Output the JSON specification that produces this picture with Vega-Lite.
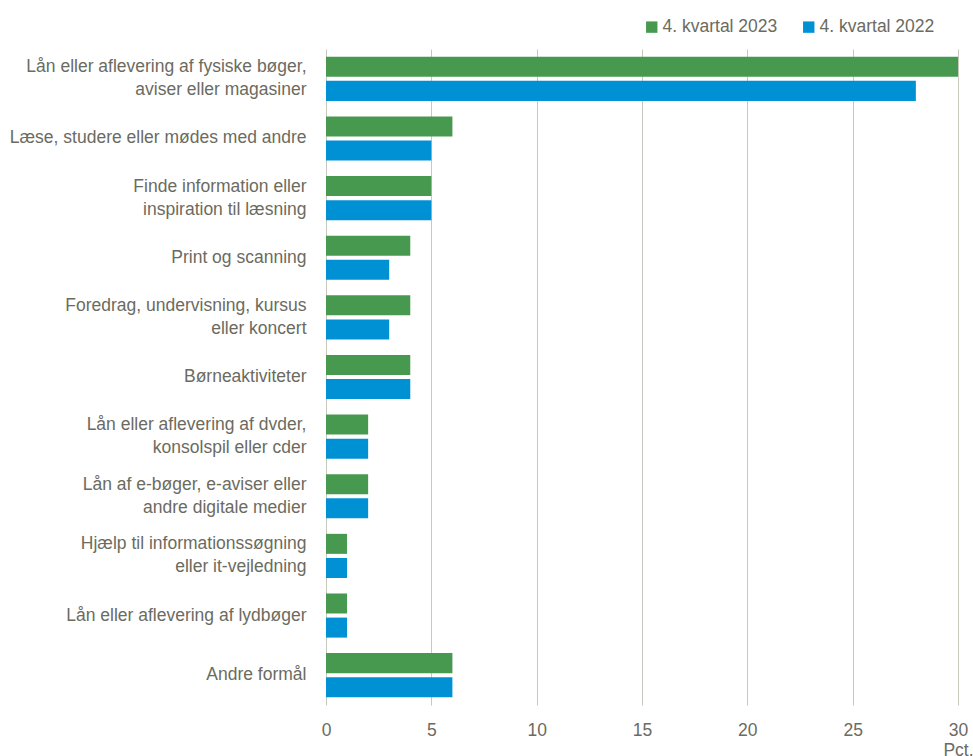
{
  "$schema": "https://vega.github.io/schema/vega-lite/v6.json",
  "autosize": {"type": "none"},
  "width": 632,
  "height": 656,
  "padding": {"left": 326, "top": 49, "right": 15, "bottom": 51},
  "background": "white",
  "config": {
    "font": "Liberation Sans",
    "view": {"stroke": null},
    "axis": {"labelColor": "#6b6b5f", "titleColor": "#6b6b5f", "labelFontSize": 17.5, "titleFontSize": 17.5, "titleFontWeight": "normal"}
  },
  "data": {
    "values": [
      {"formaal": "Lån eller aflevering af fysiske bøger,|aviser eller magasiner", "periode": "4. kvartal 2023", "pct": 30},
      {"formaal": "Lån eller aflevering af fysiske bøger,|aviser eller magasiner", "periode": "4. kvartal 2022", "pct": 28},
      {"formaal": "Læse, studere eller mødes med andre", "periode": "4. kvartal 2023", "pct": 6},
      {"formaal": "Læse, studere eller mødes med andre", "periode": "4. kvartal 2022", "pct": 5},
      {"formaal": "Finde information eller|inspiration til læsning", "periode": "4. kvartal 2023", "pct": 5},
      {"formaal": "Finde information eller|inspiration til læsning", "periode": "4. kvartal 2022", "pct": 5},
      {"formaal": "Print og scanning", "periode": "4. kvartal 2023", "pct": 4},
      {"formaal": "Print og scanning", "periode": "4. kvartal 2022", "pct": 3},
      {"formaal": "Foredrag, undervisning, kursus|eller koncert", "periode": "4. kvartal 2023", "pct": 4},
      {"formaal": "Foredrag, undervisning, kursus|eller koncert", "periode": "4. kvartal 2022", "pct": 3},
      {"formaal": "Børneaktiviteter", "periode": "4. kvartal 2023", "pct": 4},
      {"formaal": "Børneaktiviteter", "periode": "4. kvartal 2022", "pct": 4},
      {"formaal": "Lån eller aflevering af dvder,|konsolspil eller cder", "periode": "4. kvartal 2023", "pct": 2},
      {"formaal": "Lån eller aflevering af dvder,|konsolspil eller cder", "periode": "4. kvartal 2022", "pct": 2},
      {"formaal": "Lån af e-bøger, e-aviser eller|andre digitale medier", "periode": "4. kvartal 2023", "pct": 2},
      {"formaal": "Lån af e-bøger, e-aviser eller|andre digitale medier", "periode": "4. kvartal 2022", "pct": 2},
      {"formaal": "Hjælp til informationssøgning|eller it-vejledning", "periode": "4. kvartal 2023", "pct": 1},
      {"formaal": "Hjælp til informationssøgning|eller it-vejledning", "periode": "4. kvartal 2022", "pct": 1},
      {"formaal": "Lån eller aflevering af lydbøger", "periode": "4. kvartal 2023", "pct": 1},
      {"formaal": "Lån eller aflevering af lydbøger", "periode": "4. kvartal 2022", "pct": 1},
      {"formaal": "Andre formål", "periode": "4. kvartal 2023", "pct": 6},
      {"formaal": "Andre formål", "periode": "4. kvartal 2022", "pct": 6}
    ]
  },
  "mark": {"type": "bar"},
  "encoding": {
    "y": {
      "field": "formaal",
      "type": "nominal",
      "sort": null,
      "scale": {"paddingInner": 0.26, "paddingOuter": 0.13},
      "axis": {
        "title": null,
        "labelExpr": "split(datum.label, '|')",
        "labelLineHeight": 23,
        "labelPadding": 20,
        "labelOffset": {"condition": {"test": "indexof(datum.value, '|') >= 0", "value": -11.5}, "value": 0},
        "ticks": false,
        "domain": false,
        "labelLimit": 400
      }
    },
    "yOffset": {
      "field": "periode",
      "type": "nominal",
      "sort": ["4. kvartal 2023", "4. kvartal 2022"],
      "scale": {"paddingInner": 0.17, "paddingOuter": 0}
    },
    "x": {
      "field": "pct",
      "type": "quantitative",
      "scale": {"domain": [0, 30], "nice": false},
      "axis": {
        "title": "Pct.",
        "titleAnchor": "end",
        "titleAlign": "center",
        "titlePadding": 3,
        "values": [0, 5, 10, 15, 20, 25, 30],
        "grid": true,
        "gridColor": "#c8c8bc",
        "gridWidth": 1,
        "domain": false,
        "ticks": false,
        "labelPadding": 16,
        "labelFlush": false
      }
    },
    "color": {
      "field": "periode",
      "type": "nominal",
      "scale": {"domain": ["4. kvartal 2023", "4. kvartal 2022"], "range": ["#489950", "#0091d5"]},
      "legend": {
        "title": null,
        "orient": "none",
        "direction": "horizontal",
        "legendX": 317,
        "legendY": -31,
        "symbolType": "square",
        "symbolSize": 130,
        "symbolStrokeWidth": 0,
        "labelFontSize": 17.5,
        "labelColor": "#6b6b5f",
        "labelOffset": 2,
        "columnPadding": 22
      }
    }
  }
}
